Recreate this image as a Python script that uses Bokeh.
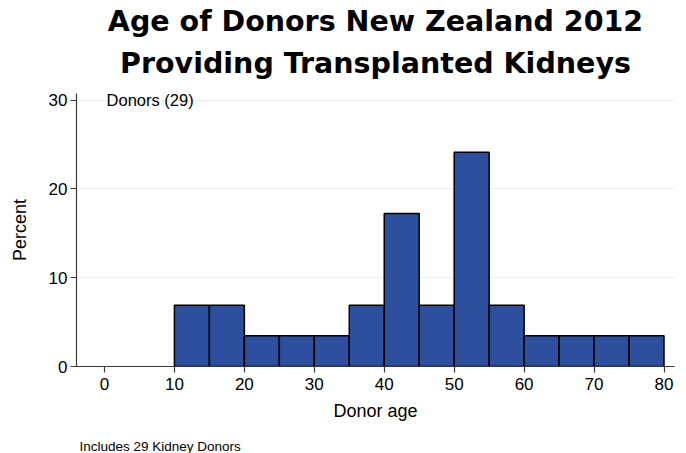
from bokeh.plotting import figure
from bokeh.models import Title, Label, Range1d, FixedTicker
from bokeh.embed import file_html
from bokeh.resources import INLINE

# Data (percent of 29 donors per 5-year age bin)
bin_left = [10, 15, 20, 25, 30, 35, 40, 45, 50, 55, 60, 65, 70, 75]
bin_right = [15, 20, 25, 30, 35, 40, 45, 50, 55, 60, 65, 70, 75, 80]
percent = [6.90, 6.90, 3.45, 3.45, 3.45, 6.90, 17.24, 6.90, 24.14, 6.90, 3.45, 3.45, 3.45, 3.45]
x_ticks = [0, 10, 20, 30, 40, 50, 60, 70, 80]
y_ticks = [0, 10, 20, 30]
title_lines = ["Age of Donors New Zealand 2012", "Providing Transplanted Kidneys"]
legend_text = "Donors (29)"
note_text = "Includes 29 Kidney Donors"

AX_FONT = "Liberation Sans"
AX_COL = "#3a3a3a"

p = figure(width=678, height=453, output_backend="svg", toolbar_location=None,
           x_range=Range1d(-4, 81.5), y_range=Range1d(0, 30.75),
           min_border_left=76, min_border_right=4, min_border_top=93, min_border_bottom=87)
p.title = None
p.outline_line_color = None
p.background_fill_color = "white"
p.border_fill_color = "white"

p.quad(left=bin_left, right=bin_right, bottom=0, top=percent,
       fill_color="#2e4f9e", line_color="black", line_width=1.5)


def spacer(gap):
    return Title(text=" ", text_font_size="1px", standoff=gap, text_color="white")


def title_line(txt):
    return Title(text=txt, align="center", text_font="DejaVu Sans",
                 text_font_size="28.5px", text_font_style="bold", text_color="black",
                 standoff=0)


# above panel, first added = closest to the plot
p.add_layout(spacer(11), "above")
p.add_layout(title_line(title_lines[1]), "above")
p.add_layout(spacer(4), "above")
p.add_layout(title_line(title_lines[0]), "above")

# below panel: x axis, spacer, footnote
p.add_layout(spacer(10), "below")
p.add_layout(Title(text=note_text, align="left", text_font=AX_FONT,
                   text_font_size="13.5px", text_font_style="normal", text_color="black",
                   offset=3, standoff=0), "below")

# axes
for ax in (p.xaxis[0], p.yaxis[0]):
    ax.axis_line_color = AX_COL
    ax.axis_line_width = 1.2
    ax.major_tick_line_color = AX_COL
    ax.major_tick_line_width = 1.2
    ax.major_tick_out = 6
    ax.major_tick_in = 0
    ax.minor_tick_line_color = None
    ax.major_label_text_font = AX_FONT
    ax.major_label_text_font_size = "17px"
    ax.major_label_text_color = "black"
    ax.axis_label_text_font = AX_FONT
    ax.axis_label_text_font_size = "18px"
    ax.axis_label_text_font_style = "normal"
    ax.axis_label_text_color = "black"

p.xaxis.ticker = FixedTicker(ticks=x_ticks)
p.yaxis.ticker = FixedTicker(ticks=y_ticks)
p.xaxis.axis_label = "Donor age"
p.yaxis.axis_label = "Percent"
p.yaxis.major_label_orientation = "horizontal"
p.xaxis.major_label_standoff = 5
p.yaxis.major_label_standoff = 3
p.xaxis.axis_label_standoff = 8
p.yaxis.axis_label_standoff = 16

p.xgrid.grid_line_color = None
p.ygrid.grid_line_color = "#e6eff0"
p.ygrid.grid_line_width = 1

p.add_layout(Label(x=0.3, y=30, text=legend_text, text_font=AX_FONT,
                   text_font_size="16.5px", text_baseline="middle", text_color="black"))

open("out.html", "w").write(file_html(p, INLINE))
